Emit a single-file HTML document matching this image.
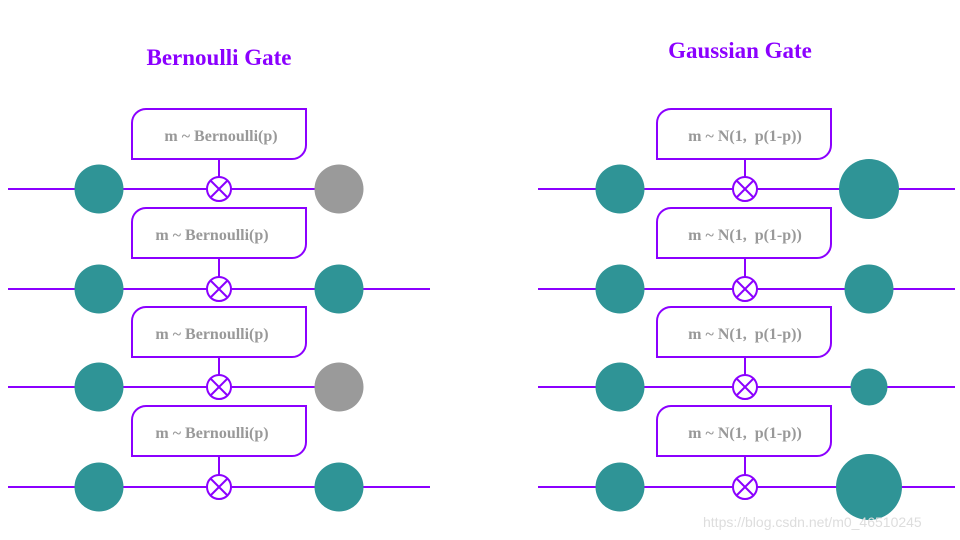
<!DOCTYPE html>
<html><head><style>body{margin:0;background:#fff}svg{display:block}</style></head><body>
<svg width="960" height="540" xmlns="http://www.w3.org/2000/svg">
<defs>
<g id="bx"><path d="M0,50 V14 A14,14 0 0 1 14,0 H174 V36 A14,14 0 0 1 160,50 Z" fill="#fff" stroke="#8B00FF" stroke-width="2"/></g>
<g id="x"><circle r="12" fill="#fff" stroke="#8B00FF" stroke-width="2"/><path d="M-8.5,-8.5 L8.5,8.5 M8.5,-8.5 L-8.5,8.5" stroke="#8B00FF" stroke-width="2"/></g>
</defs>
<g font-family="Liberation Serif, serif" font-weight="bold" fill="#8B00FF" font-size="23" text-anchor="middle">
<text x="219" y="65">Bernoulli Gate</text>
<text x="740" y="58">Gaussian Gate</text>
</g>
<g stroke="#8B00FF" stroke-width="2">
<line x1="8" y1="189" x2="340" y2="189"/><line x1="8" y1="289" x2="430" y2="289"/>
<line x1="8" y1="387" x2="340" y2="387"/><line x1="8" y1="487" x2="430" y2="487"/>
<line x1="538" y1="189" x2="955" y2="189"/><line x1="538" y1="289" x2="955" y2="289"/>
<line x1="538" y1="387" x2="955" y2="387"/><line x1="538" y1="487" x2="955" y2="487"/>
<line x1="219" y1="159" x2="219" y2="189"/><line x1="219" y1="258" x2="219" y2="289"/>
<line x1="219" y1="357" x2="219" y2="387"/><line x1="219" y1="456" x2="219" y2="487"/>
<line x1="745" y1="159" x2="745" y2="189"/><line x1="745" y1="258" x2="745" y2="289"/>
<line x1="745" y1="357" x2="745" y2="387"/><line x1="745" y1="456" x2="745" y2="487"/>
</g>
<g font-family="Liberation Serif, serif" font-weight="bold" fill="#999" font-size="16" text-anchor="middle">
<use href="#bx" x="132" y="109"/><text x="221" y="141">m ~ Bernoulli(p)</text>
<use href="#bx" x="132" y="208"/><text x="212" y="240">m ~ Bernoulli(p)</text>
<use href="#bx" x="132" y="307"/><text x="212" y="339">m ~ Bernoulli(p)</text>
<use href="#bx" x="132" y="406"/><text x="212" y="438">m ~ Bernoulli(p)</text>
<use href="#bx" x="657" y="109"/><text x="745" y="141">m ~ N(1,&#160; p(1-p))</text>
<use href="#bx" x="657" y="208"/><text x="745" y="240">m ~ N(1,&#160; p(1-p))</text>
<use href="#bx" x="657" y="307"/><text x="745" y="339">m ~ N(1,&#160; p(1-p))</text>
<use href="#bx" x="657" y="406"/><text x="745" y="438">m ~ N(1,&#160; p(1-p))</text>
</g>
<use href="#x" x="219" y="189"/><use href="#x" x="219" y="289"/><use href="#x" x="219" y="387"/><use href="#x" x="219" y="487"/>
<use href="#x" x="745" y="189"/><use href="#x" x="745" y="289"/><use href="#x" x="745" y="387"/><use href="#x" x="745" y="487"/>
<g fill="#2F9496">
<circle cx="99" cy="189" r="24.5"/><circle cx="99" cy="289" r="24.5"/><circle cx="99" cy="387" r="24.5"/><circle cx="99" cy="487" r="24.5"/>
<circle cx="339" cy="289" r="24.5"/><circle cx="339" cy="487" r="24.5"/>
<circle cx="620" cy="189" r="24.5"/><circle cx="620" cy="289" r="24.5"/><circle cx="620" cy="387" r="24.5"/><circle cx="620" cy="487" r="24.5"/>
<circle cx="869" cy="189" r="30"/><circle cx="869" cy="289" r="24.5"/><circle cx="869" cy="387" r="18.5"/><circle cx="869" cy="487" r="33"/>
</g>
<g fill="#9A9A9A"><circle cx="339" cy="189" r="24.5"/><circle cx="339" cy="387" r="24.5"/></g>
<text x="703" y="527" font-family="Liberation Sans, sans-serif" font-size="14" fill="#ddd">https://blog.csdn.net/m0_46510245</text>
</svg>
</body></html>
